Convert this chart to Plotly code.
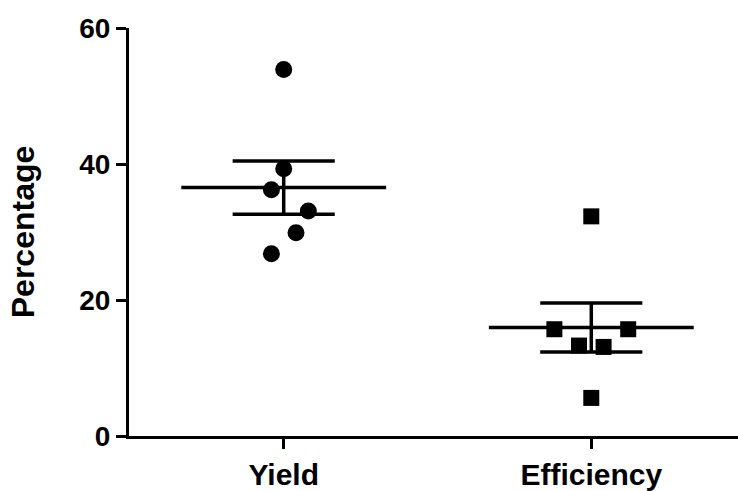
import numpy as np
import plotly.graph_objects as go

categories = ["Yield", "Efficiency"]
yield_values = [53.9, 39.3, 36.2, 33.1, 29.9, 26.8]
efficiency_values = [32.3, 15.7, 15.7, 13.3, 13.1, 5.6]
y_tick_values = [0, 20, 40, 60]

# horizontal scatter offsets (style of the dot plot)
yield_jitter = [0, 0, -0.04, 0.08, 0.04, -0.04]
efficiency_jitter = [0, -0.12, 0.12, -0.04, 0.04, 0]

series = [yield_values, efficiency_values]
jitters = [yield_jitter, efficiency_jitter]
symbols = ["circle", "square"]
sizes = [17, 16]

MEAN_HALF = 0.333
CAP_HALF = 0.166
LW = 3.5

fig = go.Figure()
for i, (vals, jit, sym, sz) in enumerate(zip(series, jitters, symbols, sizes)):
    v = np.array(vals)
    mean = v.mean()
    sem = v.std(ddof=1) / np.sqrt(len(v))
    fig.add_trace(go.Scatter(
        x=[i + j for j in jit], y=vals, mode="markers",
        marker=dict(symbol=sym, size=sz, color="black", line=dict(width=0)),
        showlegend=False, hoverinfo="y"))
    # mean line
    fig.add_trace(go.Scatter(x=[i - MEAN_HALF, i + MEAN_HALF], y=[mean, mean], mode="lines",
                             line=dict(color="black", width=LW), showlegend=False, hoverinfo="skip"))
    # SEM caps and stem
    for yv in (mean + sem, mean - sem):
        fig.add_trace(go.Scatter(x=[i - CAP_HALF, i + CAP_HALF], y=[yv, yv], mode="lines",
                                 line=dict(color="black", width=LW), showlegend=False, hoverinfo="skip"))
    fig.add_trace(go.Scatter(x=[i, i], y=[mean - sem, mean + sem], mode="lines",
                             line=dict(color="black", width=LW), showlegend=False, hoverinfo="skip"))

fig.update_layout(
    width=738, height=491,
    margin=dict(l=129, r=0, t=28, b=49),
    plot_bgcolor="white", paper_bgcolor="white",
    font=dict(family="Liberation Sans, Arial, sans-serif", color="black"),
)
fig.update_xaxes(
    range=[-0.503, 1.477], tickvals=[0, 1], ticktext=categories,
    showline=True, linecolor="black", linewidth=3,
    ticks="outside", ticklen=10, tickwidth=3, tickcolor="black",
    tickfont=dict(size=30, weight="bold"),
    showgrid=False, zeroline=False,
)
fig.update_yaxes(
    range=[0, 60], tickvals=y_tick_values,
    showline=True, linecolor="black", linewidth=3,
    ticks="outside", ticklen=10, tickwidth=3, tickcolor="black",
    tickfont=dict(size=28, weight="bold"),
    title=dict(text="Percentage", font=dict(size=32, weight="bold"), standoff=36),
    showgrid=False, zeroline=False,
)

fig.write_html("out.html")
